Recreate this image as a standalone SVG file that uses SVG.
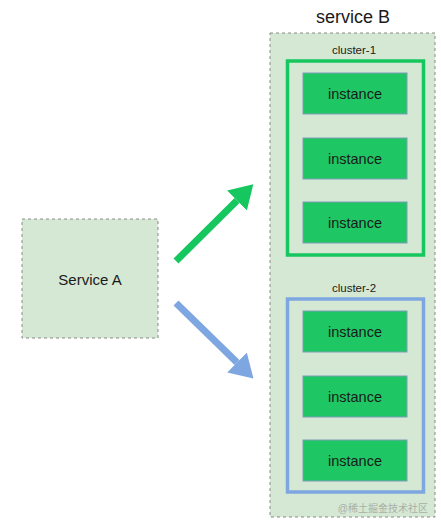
<svg xmlns="http://www.w3.org/2000/svg" width="441" height="528" viewBox="0 0 441 528">
<style>
.box{fill:#d5e8d4;stroke:#8a8a8a;stroke-width:1;stroke-dasharray:3 3}
.inst{fill:#1ec764;stroke:#7f9cb8;stroke-width:1}
.t{font-family:"Liberation Sans",Arial,sans-serif;fill:#1a1a1a;text-anchor:middle}
.it{font-size:14.5px}
.cl{font-size:11.5px}
</style>
<defs>
<marker id="hg" markerUnits="userSpaceOnUse" markerWidth="24" markerHeight="28" refX="0" refY="14" orient="auto"><path d="M0,0 L23,14 L0,28 z" fill="#16c65e"/></marker>
<marker id="hb" markerUnits="userSpaceOnUse" markerWidth="24" markerHeight="28" refX="0" refY="14" orient="auto"><path d="M0,0 L23,14 L0,28 z" fill="#7ea6e0"/></marker>
</defs>
<rect width="441" height="528" fill="#ffffff"/>
<g id="serviceA">
<rect class="box" x="22" y="219" width="136" height="119"/>
<text class="t" x="90" y="285" font-size="15" fill="#333">Service A</text>
</g>
<g id="serviceB">
<text class="t" x="353" y="23" font-size="18">service B</text>
<rect class="box" x="270" y="33" width="165" height="484"/>
<text x="428" y="512" font-family="'Liberation Sans','Noto Sans CJK SC',sans-serif" font-size="10" fill="#a8b0a8" text-anchor="end">@稀土掘金技术社区</text>
</g>
<g id="cluster1">
<text class="t cl" x="354" y="54">cluster-1</text>
<rect x="287.5" y="61" width="136" height="194" fill="none" stroke="#16c65e" stroke-width="3.5"/>
</g>
<g id="instance1"><rect class="inst" x="303" y="73" width="104" height="41"/><text class="t it" x="355" y="99">instance</text></g>
<g id="instance2"><rect class="inst" x="303" y="138" width="104" height="41"/><text class="t it" x="355" y="164">instance</text></g>
<g id="instance3"><rect class="inst" x="303" y="202" width="104" height="41"/><text class="t it" x="355" y="228">instance</text></g>
<g id="cluster2">
<text class="t cl" x="354" y="292">cluster-2</text>
<rect x="287.5" y="299" width="136" height="193" fill="none" stroke="#7ea6e0" stroke-width="3.5"/>
</g>
<g id="instance4"><rect class="inst" x="303" y="311" width="104" height="41"/><text class="t it" x="355" y="337">instance</text></g>
<g id="instance5"><rect class="inst" x="303" y="376" width="104" height="41"/><text class="t it" x="355" y="402">instance</text></g>
<g id="instance6"><rect class="inst" x="303" y="440" width="104" height="41"/><text class="t it" x="355" y="466">instance</text></g>
<g id="connectors">
<line x1="176" y1="261" x2="237" y2="200.5" stroke="#16c65e" stroke-width="7" marker-end="url(#hg)"/>
<line x1="176" y1="303" x2="237" y2="362.5" stroke="#7ea6e0" stroke-width="7" marker-end="url(#hb)"/>
</g>
</svg>
